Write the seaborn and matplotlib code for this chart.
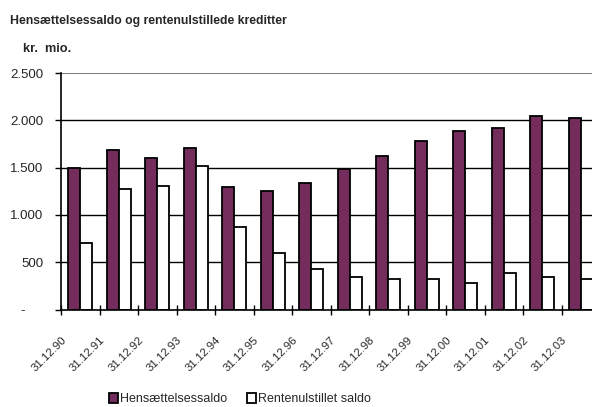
import pandas as pd
import matplotlib.pyplot as plt
import seaborn as sns
from matplotlib.transforms import ScaledTranslation

# Data (kr. mio.)
dates = ["31.12.90", "31.12.91", "31.12.92", "31.12.93", "31.12.94", "31.12.95", "31.12.96",
         "31.12.97", "31.12.98", "31.12.99", "31.12.00", "31.12.01", "31.12.02", "31.12.03"]
hensaettelse = [1500, 1690, 1605, 1710, 1295, 1250, 1335, 1480, 1625, 1780, 1885, 1920, 2045, 2025]
rentenul = [700, 1270, 1310, 1520, 870, 600, 430, 345, 325, 325, 280, 385, 345, 325]
series = ["Hensættelsessaldo", "Rentenulstillet saldo"]
yticks = [0, 500, 1000, 1500, 2000, 2500]
ytick_labels = ["-     ", "500", "1.000", "1.500", "2.000", "2.500"]

df = pd.DataFrame({"dato": dates * 2,
                   "serie": [series[0]] * len(dates) + [series[1]] * len(dates),
                   "saldo": hensaettelse + rentenul})

sns.set_style("white")
plt.rcParams["font.family"] = ["Liberation Sans", "DejaVu Sans"]

fig = plt.figure(figsize=(5.92, 4.07), dpi=100)
ax = fig.add_axes([61 / 592, 1 - 309.5 / 407, 539 / 592, 236.5 / 407])

sns.barplot(data=df, x="dato", y="saldo", hue="serie", palette=["#802060", "white"],
            edgecolor="black", linewidth=1.3, width=0.62, ax=ax)

ax.set_xlim(-0.5, 13.5)
ax.set_ylim(0, 2500)
ax.set_xlabel("")
ax.set_ylabel("")

# gitterlinjer
for y in yticks[1:-1]:
    ax.axhline(y, color="black", linewidth=1, zorder=0)
ax.axhline(2500, color="#808080", linewidth=1.5, zorder=0)

sns.despine(ax=ax, top=True, right=True)
ax.spines["left"].set_color("black")
ax.spines["bottom"].set_color("black")
ax.spines["left"].set_linewidth(1.2)
ax.spines["bottom"].set_linewidth(1.2)

ax.set_yticks(yticks)
ax.set_yticklabels(ytick_labels, fontsize=9.5)
ax.tick_params(axis="y", direction="out", length=4.5, width=1, color="black", pad=8, left=True)

ax.set_xticks(range(len(dates)))
ax.set_xticklabels(dates, rotation=45, ha="right", fontsize=8.2)
ax.set_xticks([i + 0.5 for i in range(-1, len(dates))], minor=True)
ax.tick_params(axis="x", which="major", length=0, pad=18)
ax.tick_params(axis="x", which="minor", direction="inout", length=7, width=1, color="black", bottom=True)
for lab in ax.get_xticklabels():
    lab.set_transform(lab.get_transform() + ScaledTranslation(-0.12, 0, fig.dpi_scale_trans))

# titler
fig.text(10 / 592, 1 - 24 / 407, "Hensættelsessaldo og rentenulstillede kreditter",
         fontsize=8.8, fontweight="bold", ha="left", va="baseline")
fig.text(23 / 592, 1 - 52 / 407, "kr.  mio.", fontsize=9.2, fontweight="bold",
         ha="left", va="baseline")

leg = ax.legend(loc="center", bbox_to_anchor=(240 / 592, 1 - 399 / 407),
                bbox_transform=fig.transFigure, ncol=2, frameon=False, fontsize=9,
                handlelength=0.7, handleheight=0.9, handletextpad=0.2, columnspacing=1.6)

fig.savefig("out.png", dpi=100)
